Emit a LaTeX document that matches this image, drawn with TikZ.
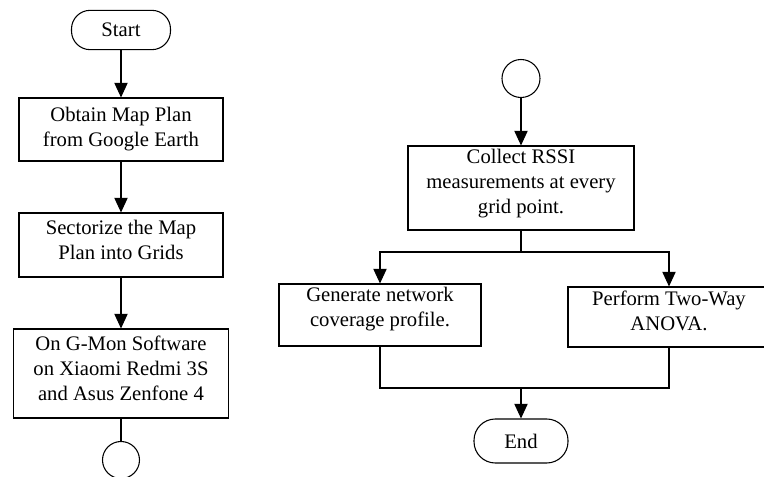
\documentclass[tikz,border=0pt]{standalone}
\usepackage{fontspec}
\setmainfont{Liberation Serif}
\usetikzlibrary{arrows.meta}
\begin{document}
\begin{tikzpicture}[x=0.75pt,y=-0.75pt,
  every node/.style={font=\fontsize{15.5}{18.75}\selectfont, inner sep=0pt},
  procbox/.style={draw, line width=0.8pt, rectangle},
  termbox/.style={draw, line width=0.8pt, rectangle, rounded corners=14pt},
  conn/.style={draw, line width=0.8pt, circle},
  txt/.style={align=center},
  line/.style={line width=0.8pt},
  arr/.style={line width=0.8pt, -{Triangle[width=10pt,length=11pt]}}]
\clip (0,0) rectangle (764,477);
\useasboundingbox (0,0) rectangle (764,477);
% left column
\node[termbox, minimum width=74.25pt, minimum height=29.5pt] (start) at (121,30) {Start};
\node[procbox, minimum width=153pt, minimum height=47.25pt] (b1) at (121,129.5) {};
\node[txt] (b1t) at (121,129.5) {Obtain Map Plan\\from Google Earth};
\node[procbox, minimum width=153pt, minimum height=48pt] (b2) at (121,245) {};
\node[txt] (b2t) at (121,240) {Sectorize the Map\\Plan into Grids};
\node[procbox, minimum width=161.25pt, minimum height=66.75pt] (b3) at (121,373.5) {};
\node[txt] (b3t) at (121,368.5) {On G-Mon Software\\on Xiaomi Redmi 3S\\and Asus Zenfone 4};
\node[conn, minimum size=27.75pt] (c1) at (121,460) {};
% right column
\node[conn, minimum size=28.5pt] (c2) at (521,78.5) {};
\node[procbox, minimum width=169.5pt, minimum height=63pt] (b4) at (521,188) {};
\node[txt] (b4t) at (521,184) {Collect RSSI\\measurements at every\\grid point.};
\node[procbox, minimum width=151.5pt, minimum height=46.5pt] (b5) at (380,315) {};
\node[txt] (b5t) at (380,309) {Generate network\\coverage profile.};
\node[procbox, minimum width=151.5pt, minimum height=45pt] (b6) at (669,317) {};
\node[txt] (b6t) at (669,311) {Perform Two-Way\\ANOVA.};
\node[termbox, minimum width=70.5pt, minimum height=33pt, rounded corners=16pt] (end) at (521,441) {End};
\coordinate (split) at (521,252);
\coordinate (merge) at (521,388);
% connectors
\draw[arr] (start) -- (b1);
\draw[arr] (b1) -- (b2);
\draw[arr] (b2) -- (b3);
\draw[line] (b3) -- (c1);
\draw[arr] (c2) -- (b4);
\draw[line] (b4.south) -- (split);
\draw[arr] (split) -| (b5.north);
\draw[arr] (split) -| (b6.north);
\draw[line] (b5.south) |- (merge) -| (b6.south);
\draw[arr] (merge) -- (end);
\end{tikzpicture}
\end{document}
